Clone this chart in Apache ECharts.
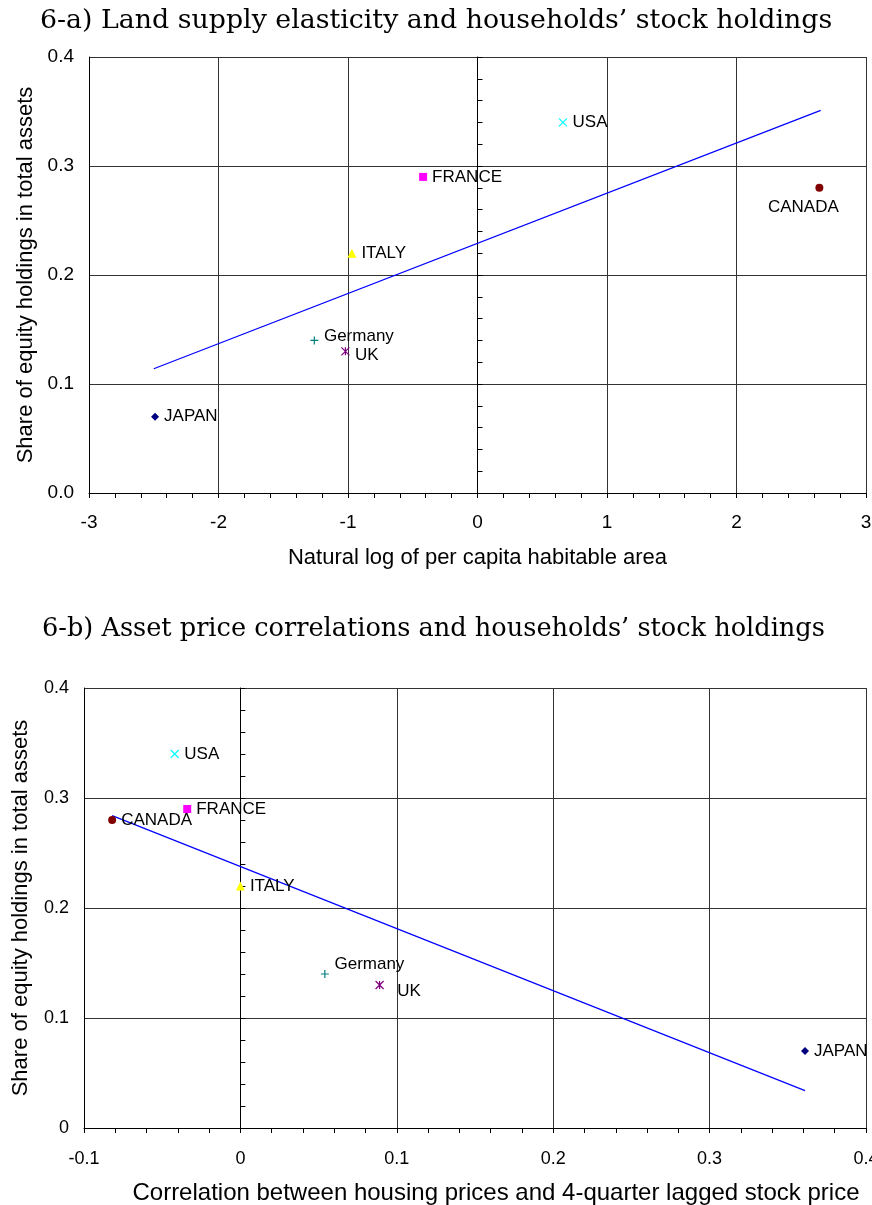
<!DOCTYPE html>
<html><head><meta charset="utf-8">
<script src="https://cdn.jsdelivr.net/npm/echarts@6/dist/echarts.min.js"></script>
<style>html,body{margin:0;padding:0;background:#fff;overflow:hidden}#c{width:872px;height:1205px}</style>
</head><body><div id="c"></div>
<script>
// ---- data ----
const countries = ['JAPAN', 'Germany', 'UK', 'ITALY', 'FRANCE', 'USA', 'CANADA'];
const stockShare = [0.07, 0.14, 0.13, 0.22, 0.29, 0.34, 0.28];
const habitableArea = [-2.49, -1.26, -1.02, -0.97, -0.42, 0.66, 2.64];
const priceCorrelation = [0.361, 0.054, 0.089, 0.0, -0.034, -0.042, -0.082];
const areaTrendX = [-2.5, 2.65];
const areaTrendY = [0.114, 0.351];
const corrTrendX = [-0.082, 0.361];
const corrTrendY = [0.284, 0.034];
const titleA = '6-a) Land supply elasticity and households\u2019 stock holdings';
const titleB = '6-b) Asset price correlations and households\u2019 stock holdings';
const xNameA = 'Natural log of per capita habitable area';
const xNameB = 'Correlation between housing prices and 4-quarter lagged stock price';
const yName = 'Share of equity holdings in total assets';

// ---- styles ----
const markers = {
  JAPAN:   {symbol: 'diamond', size: 8, fill: '#000080'},
  Germany: {symbol: 'path://M4,0L4,8M0,4L8,4', size: 8, stroke: '#008080'},
  UK:      {symbol: 'path://M0,0L8,8M8,0L0,8M4,0L4,8', size: 8, stroke: '#800080'},
  ITALY:   {symbol: 'triangle', size: 9, fill: '#FFFF00'},
  FRANCE:  {symbol: 'rect', size: 8, fill: '#FF00FF'},
  USA:     {symbol: 'path://M0,0L8,8M8,0L0,8', size: 8, stroke: '#00FFFF'},
  CANADA:  {symbol: 'circle', size: 8, fill: '#800000'}
};
const labelsA = {
  JAPAN: {position: 'right', offset: [0, 0]},
  Germany: {position: 'right', offset: [0, -4]},
  UK: {position: 'right', offset: [0, 4]},
  ITALY: {position: 'right', offset: [0, 0]},
  FRANCE: {position: 'right', offset: [0, 0]},
  USA: {position: 'right', offset: [0, 0]},
  CANADA: {position: 'bottom', offset: [-16, 2]}
};
const labelsB = {
  JAPAN: {position: 'right', offset: [0, 0]},
  Germany: {position: 'right', offset: [0, -10]},
  UK: {position: 'right', offset: [8, 6]},
  ITALY: {position: 'right', offset: [0, 0]},
  FRANCE: {position: 'right', offset: [0, 0]},
  USA: {position: 'right', offset: [0, 0]},
  CANADA: {position: 'right', offset: [0, 0]}
};

const SANS = 'Liberation Sans, Arial, sans-serif';
const SERIF = 'DejaVu Serif, serif';
const gridColor = '#333';

function scatterSeries(xs, labelMap, xi, yi) {
  return countries.map((c, i) => {
    const m = markers[c];
    const lab = labelMap[c];
    return {
      type: 'scatter', name: c, xAxisIndex: xi, yAxisIndex: yi,
      symbol: m.symbol, symbolSize: m.size,
      itemStyle: m.stroke ? {color: 'rgba(0,0,0,0)', borderColor: m.stroke, borderWidth: 1.2, opacity: 1}
                          : {color: m.fill, opacity: 1},
      label: {show: true, formatter: c, position: lab.position, offset: lab.offset,
              distance: 5, color: '#000', fontFamily: SANS, fontSize: 17},
      emphasis: {disabled: true},
      data: [[xs[i], stockShare[i]]],
      z: 5
    };
  });
}
function trendSeries(tx, ty, xi, yi) {
  return {
    type: 'line', xAxisIndex: xi, yAxisIndex: yi, showSymbol: false, symbol: 'none',
    lineStyle: {color: '#0000FF', width: 1.2}, silent: true,
    data: tx.map((x, i) => [x, ty[i]]), z: 4
  };
}
function xAxisDef(gi, min, max, interval, name, gap, nameSize, labelSize, margin, namePad) {
  return {
    type: 'value', gridIndex: gi, min, max, interval,
    name, nameLocation: 'middle', nameGap: gap,
    nameTextStyle: {color: '#000', fontFamily: SANS, fontSize: nameSize, padding: namePad},
    axisLine: {show: true, onZero: true, lineStyle: {color: '#000', width: 1}},
    axisTick: {show: true, length: 5, lineStyle: {color: '#000'}},
    minorTick: {show: true, splitNumber: 5, length: 5, lineStyle: {color: '#000'}},
    axisLabel: {color: '#000', fontFamily: SANS, fontSize: labelSize, margin},
    splitLine: {show: true, lineStyle: {color: gridColor, width: 1}}
  };
}
function yLeftDef(gi, fmt, labelSize) {
  return {
    type: 'value', gridIndex: gi, min: 0, max: 0.4, interval: 0.1, position: 'left',
    name: yName, nameLocation: 'middle', nameGap: 52, nameRotate: 90,
    nameTextStyle: {color: '#000', fontFamily: SANS, fontSize: 22},
    axisLine: {show: true, onZero: false, lineStyle: {color: '#000', width: 1}},
    axisTick: {show: false},
    axisLabel: {color: '#000', fontFamily: SANS, fontSize: labelSize, margin: 15, formatter: fmt},
    splitLine: {show: true, lineStyle: {color: gridColor, width: 1}}
  };
}
function yCenterDef(gi) {
  return {
    type: 'value', gridIndex: gi, min: 0, max: 0.4, interval: 0.1, position: 'left',
    axisLine: {show: true, onZero: true, lineStyle: {color: '#000', width: 1}},
    axisTick: {show: true, inside: true, length: 5, lineStyle: {color: '#000'}},
    minorTick: {show: true, splitNumber: 5, length: 5, lineStyle: {color: '#000'}},
    axisLabel: {show: false},
    splitLine: {show: false}
  };
}

const chart = echarts.init(document.getElementById('c'), null, {renderer: 'canvas'});
chart.setOption({
  animation: false,
  backgroundColor: '#fff',
  title: [
    {text: titleA, left: 35, top: 3,
     textStyle: {fontFamily: SERIF, fontWeight: 'normal', fontSize: 26.8, color: '#000'}},
    {text: titleB, left: 37, top: 611,
     textStyle: {fontFamily: SERIF, fontWeight: 'normal', fontSize: 25.6, color: '#000'}}
  ],
  grid: [
    {left: 89, top: 57, width: 777, height: 436, outerBoundsMode: 'none', containLabel: false},
    {left: 84, top: 688, width: 782, height: 440, outerBoundsMode: 'none', containLabel: false}
  ],
  xAxis: [
    xAxisDef(0, -3, 3, 1, xNameA, 54, 22, 19, 20, [0, 0, 0, 0]),
    xAxisDef(1, -0.1, 0.4, 0.1, xNameB, 53, 24, 18, 22, [0, 0, 0, 42])
  ],
  yAxis: [
    yLeftDef(0, v => v.toFixed(1), 19),
    yCenterDef(0),
    yLeftDef(1, v => (v === 0 ? '0' : v.toFixed(1)), 18),
    yCenterDef(1)
  ],
  series: [
    trendSeries(areaTrendX, areaTrendY, 0, 0),
    ...scatterSeries(habitableArea, labelsA, 0, 0),
    trendSeries(corrTrendX, corrTrendY, 1, 2),
    ...scatterSeries(priceCorrelation, labelsB, 1, 2)
  ]
});
</script></body></html>
